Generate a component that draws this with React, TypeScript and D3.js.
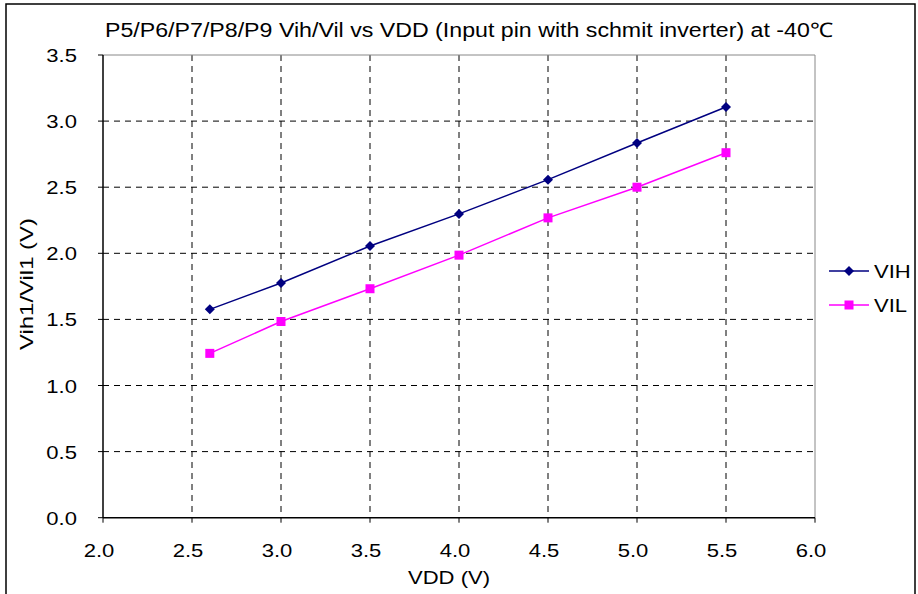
import React from "react";
import * as d3 from "d3";

const vdd = [2.6, 3.0, 3.5, 4.0, 4.5, 5.0, 5.5];
const vih = [1.576, 1.775, 2.055, 2.298, 2.557, 2.834, 3.107];
const vil = [1.243, 1.484, 1.732, 1.986, 2.268, 2.5, 2.761];
const xTicks = [2.0, 2.5, 3.0, 3.5, 4.0, 4.5, 5.0, 5.5, 6.0];
const yTicks = [0, 0.5, 1.0, 1.5, 2.0, 2.5, 3.0, 3.5];
const title = "P5/P6/P7/P8/P9 Vih/Vil vs VDD (Input pin with schmit inverter) at -40\u2103";

const SX = 1.16;

function T(props: { x: number; y: number; anchor?: string; size: number; children: React.ReactNode }) {
  return (
    <text
      transform={`translate(${props.x},${props.y}) scale(${SX},1)`}
      textAnchor={props.anchor || "start"}
      fontSize={props.size}
    >
      {props.children}
    </text>
  );
}

export default function App() {
  const W = 918, H = 594;
  const left = 103, right = 815, top = 55, bottom = 517.7;
  const x = d3.scaleLinear().domain([2, 6]).range([left, right]);
  const y = d3.scaleLinear().domain([0, 3.5]).range([bottom, top]);
  const line = d3.line<number>().x((_, i) => x(vdd[i])).y((d) => y(d));
  const font = "Arial, 'Liberation Sans', sans-serif";
  const diamond = (cx: number, cy: number, r: number) =>
    `M${cx},${cy - r}L${cx + r},${cy}L${cx},${cy + r}L${cx - r},${cy}Z`;
  return (
    <svg width={W} height={H} style={{ position: "absolute", left: 0, top: 0 }} fontFamily={font}>
      <rect x={0} y={0} width={W} height={H} fill="#fff" />
      <path d={`M6,${H}V4H915V${H}`} fill="none" stroke="#000" strokeWidth={1.5} />
      <text x={469} y={37} textAnchor="middle" fontSize={20} textLength={728} lengthAdjust="spacingAndGlyphs">{title}</text>
      {xTicks.slice(1, -1).map((t) => (
        <line key={"gx" + t} x1={x(t)} x2={x(t)} y1={top} y2={bottom} stroke="#000" strokeDasharray="6,5" strokeWidth={1} />
      ))}
      {yTicks.slice(1, -1).map((t) => (
        <line key={"gy" + t} x1={left} x2={right} y1={y(t)} y2={y(t)} stroke="#000" strokeDasharray="6,5" strokeWidth={1} />
      ))}
      <line x1={left} x2={right} y1={top} y2={top} stroke="#888" strokeWidth={1} />
      <line x1={right} x2={right} y1={top} y2={bottom} stroke="#888" strokeWidth={1} />
      <line x1={left} x2={left} y1={top} y2={bottom} stroke="#000" strokeWidth={1.5} />
      <line x1={left} x2={right} y1={bottom} y2={bottom} stroke="#000" strokeWidth={1.5} />
      {yTicks.map((t) => (
        <g key={"ty" + t}>
          <line x1={left - 5} x2={left} y1={y(t)} y2={y(t)} stroke="#000" />
          <T x={left - 26} y={y(t) + 7} anchor="end" size={19}>{t.toFixed(1)}</T>
        </g>
      ))}
      {xTicks.map((t) => (
        <g key={"tx" + t}>
          <line x1={x(t)} x2={x(t)} y1={bottom} y2={bottom + 5} stroke="#000" />
          <T x={x(t) - 4} y={557} anchor="middle" size={19}>{t.toFixed(1)}</T>
        </g>
      ))}
      <T x={449} y={584} anchor="middle" size={19}>VDD (V)</T>
      <text transform={`translate(33,284) rotate(-90)`} textAnchor="middle" fontSize={19} textLength={132} lengthAdjust="spacingAndGlyphs">Vih1/Vil1 (V)</text>
      <path d={line(vih) || ""} fill="none" stroke="#000080" strokeWidth={1.5} />
      <path d={line(vil) || ""} fill="none" stroke="#FF00FF" strokeWidth={1.5} />
      {vih.map((v, i) => (
        <path key={"dh" + i} d={diamond(x(vdd[i]), y(v), 5)} fill="#000080" />
      ))}
      {vil.map((v, i) => (
        <rect key={"dl" + i} x={x(vdd[i]) - 4.5} y={y(v) - 4.5} width={9} height={9} fill="#FF00FF" />
      ))}
      <line x1={829} x2={869} y1={271} y2={271} stroke="#000080" strokeWidth={1.5} />
      <path d={diamond(849, 271, 5)} fill="#000080" />
      <T x={874} y={278} size={19}>VIH</T>
      <line x1={829} x2={869} y1={305} y2={305} stroke="#FF00FF" strokeWidth={1.5} />
      <rect x={844.5} y={300.5} width={9} height={9} fill="#FF00FF" />
      <T x={874} y={312} size={19}>VIL</T>
    </svg>
  );
}
